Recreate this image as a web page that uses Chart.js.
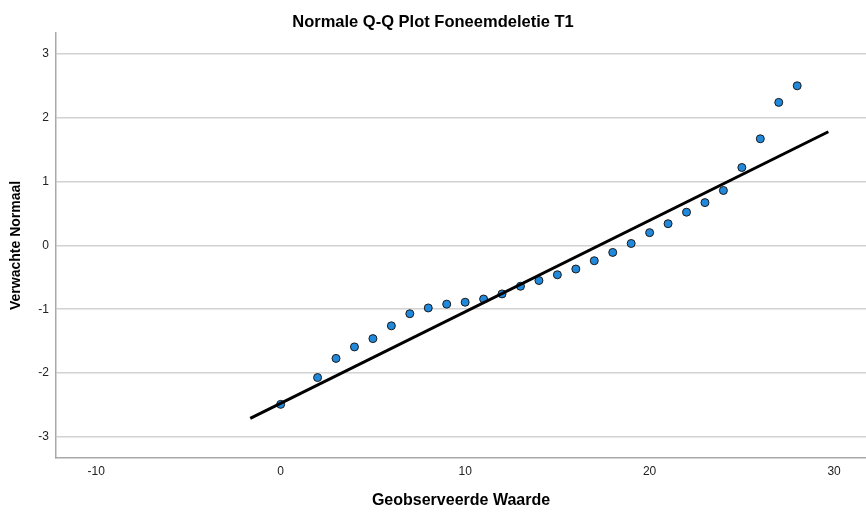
<!DOCTYPE html>
<html>
<head>
<meta charset="utf-8">
<script src="https://cdn.jsdelivr.net/npm/chart.js@4/dist/chart.umd.min.js"></script>
<style>
  html, body { margin: 0; padding: 0; background: #fff; }
  #wrap { width: 866px; height: 514px; }
</style>
</head>
<body>
<div id="wrap"><canvas id="qq" width="866" height="514"></canvas></div>
<script>
// Observed values (x) and their expected normal quantiles (y)
const observed = [0, 2, 3, 4, 5, 6, 7, 8, 9, 10, 11, 12, 13, 14, 15, 16, 17, 18, 19, 20, 21, 22, 23, 24, 25, 26, 27, 28];
const expectedNormal = [-2.49, -2.07, -1.77, -1.59, -1.46, -1.26, -1.07, -0.98, -0.92, -0.89, -0.84, -0.76, -0.64, -0.55, -0.46, -0.37, -0.24, -0.11, 0.03, 0.20, 0.34, 0.52, 0.67, 0.86, 1.22, 1.67, 2.24, 2.50];

// Reference line endpoints
const refLineX = [-1.65, 29.69];
const refLineY = [-2.71, 1.78];

// Axis ticks
const xTicks = [-10, 0, 10, 20, 30];
const yTicks = [-3, -2, -1, 0, 1, 2, 3];

const FONT = "'Liberation Sans', Arial, Helvetica, sans-serif";

const points = observed.map((x, i) => ({ x: x, y: expectedNormal[i] }));
const refLine = refLineX.map((x, i) => ({ x: x, y: refLineY[i] }));

new Chart(document.getElementById('qq'), {
  type: 'scatter',
  data: {
    datasets: [
      {
        label: 'Referentielijn',
        type: 'line',
        data: refLine,
        borderColor: '#000000',
        borderWidth: 3,
        pointRadius: 0,
        fill: false,
        tension: 0
      },
      {
        label: 'Foneemdeletie T1',
        data: points,
        backgroundColor: '#2089dc',
        borderColor: '#1a1a1a',
        borderWidth: 1,
        pointRadius: 4,
        pointHoverRadius: 4
      }
    ]
  },
  options: {
    responsive: false,
    animation: false,
    layout: { padding: 0, autoPadding: false },
    plugins: {
      legend: { display: false },
      tooltip: { enabled: false },
      title: {
        display: true,
        text: 'Normale Q-Q Plot Foneemdeletie T1',
        color: '#000',
        font: { family: FONT, size: 16.5, weight: 'bold', lineHeight: 1.2 },
        padding: { top: 13, bottom: 0 }
      }
    },
    scales: {
      x: {
        type: 'linear',
        min: -12.18,
        max: 31.73,
        afterBuildTicks: s => { s.ticks = xTicks.map(v => ({ value: v })); },
        afterFit: s => { s.height = 56; s.paddingLeft = 0; s.paddingRight = 0; },
        grid: { display: false, drawTicks: false },
        border: { display: true, color: '#a8a8a8', width: 1.5 },
        ticks: {
          color: '#222',
          padding: 6,
          font: { family: FONT, size: 12 }
        },
        title: {
          display: true,
          text: 'Geobserveerde Waarde',
          color: '#000',
          font: { family: FONT, size: 16, weight: 'bold', lineHeight: 1.2 },
          padding: { top: 0, bottom: 4 }
        }
      },
      y: {
        type: 'linear',
        min: -3.33,
        max: 3.33,
        afterBuildTicks: s => { s.ticks = yTicks.map(v => ({ value: v })); },
        afterFit: s => { s.width = 56; s.paddingTop = 0; s.paddingBottom = 0; },
        grid: { color: '#d2d2d2', lineWidth: 1.5, drawTicks: false },
        border: { display: true, color: '#a8a8a8', width: 1.5 },
        ticks: {
          color: '#222',
          padding: 7,
          font: { family: FONT, size: 12 }
        },
        title: {
          display: true,
          text: 'Verwachte Normaal',
          color: '#000',
          font: { family: FONT, size: 14, weight: 'bold', lineHeight: 1.2 },
          padding: { top: 8, bottom: 0 }
        }
      }
    }
  }
});
</script>
</body>
</html>
